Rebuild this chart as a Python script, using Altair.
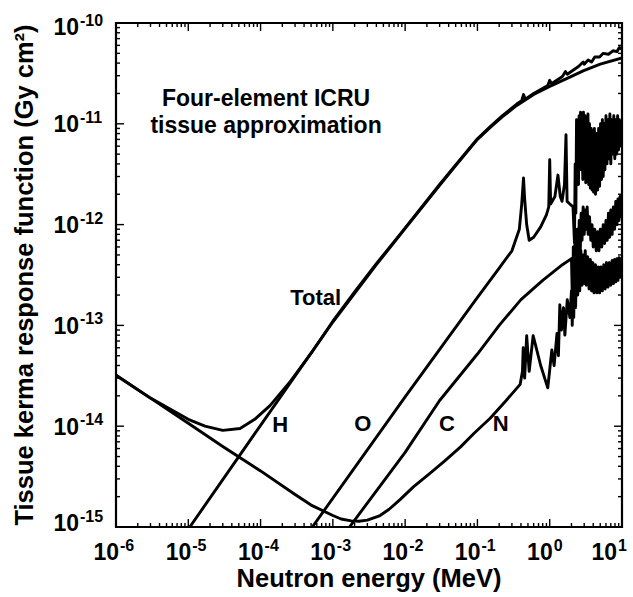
import altair as alt
import pandas as pd

# ---------------- data (E in MeV, K in Gy cm^2) ----------------
total_pts = [
    (1e-6, 3.2e-14), (3e-6, 1.9e-14), (1e-5, 1.17e-14), (1.7e-5, 1.0e-14), (3e-5, 9.1e-15),
    (5.2e-5, 9.5e-15), (8.3e-5, 1.17e-14), (1.35e-4, 1.6e-14), (2.6e-4, 2.8e-14), (5e-4, 5.3e-14),
    (1e-3, 1.1e-13), (2e-3, 2.15e-13), (4e-3, 4.1e-13), (8.5e-3, 8.0e-13), (0.03, 2.5e-12),
    (0.05, 3.9e-12), (0.1, 7.1e-12), (0.148, 9.3e-12), (0.22, 1.2e-11), (0.35, 1.57e-11),
    (0.41, 1.7e-11), (0.434, 1.95e-11), (0.46, 1.75e-11), (0.6, 2.0e-11), (0.94, 2.4e-11),
    (1.0, 2.7e-11), (1.06, 2.5e-11), (1.5, 2.95e-11), (1.65, 3.3e-11), (1.75, 3.1e-11),
    (2.5, 3.7e-11), (2.9, 4.1e-11), (3.0, 3.9e-11), (3.4, 4.3e-11), (3.8, 4.1e-11),
    (4.2, 4.6e-11), (4.9, 4.6e-11), (5.5, 5.0e-11), (6.5, 4.9e-11), (7.5, 5.3e-11),
    (8.5, 5.2e-11), (9.2, 5.7e-11), (10.0, 5.5e-11),
]
h_pts = [
    (1.05e-5, 1.0e-15), (1e-4, 1.02e-14), (1e-3, 1.08e-13), (4e-3, 4.0e-13), (8.5e-3, 7.9e-13),
    (0.03, 2.45e-12), (0.05, 3.85e-12), (0.1, 7.0e-12), (0.148, 9.1e-12), (0.22, 1.17e-11),
    (0.35, 1.52e-11), (0.6, 1.95e-11), (1.0, 2.35e-11), (2.0, 2.95e-11), (2.9, 3.35e-11),
    (5.0, 3.9e-11), (10.0, 4.5e-11),
]
o_pts = [
    (5.2e-4, 1.0e-15), (1e-2, 1.95e-14), (0.095, 1.8e-13), (0.2, 3.7e-13), (0.3, 5.5e-13),
    (0.38, 9e-13), (0.41, 1.6e-12), (0.434, 2.9e-12), (0.45, 1.8e-12), (0.48, 1.0e-12),
    (0.52, 7e-13), (0.6, 7.5e-13), (0.75, 9.5e-13), (0.9, 1.25e-12), (0.97, 1.5e-12),
    (1.0, 4.4e-12), (1.03, 1.6e-12), (1.18, 1.9e-12), (1.3, 3.1e-12), (1.4, 1.9e-12),
    (1.48, 1.7e-12), (1.6, 2.5e-12), (1.68, 7.8e-12), (1.74, 1.7e-12), (1.9, 1.6e-12),
    (2.1, 1.5e-12), (2.2, 6.6e-13), (2.25, 4e-12), (2.3, 1.3e-12), (2.35, 1.1e-11),
    (2.4, 3e-12), (2.45, 9e-12), (2.5, 2.5e-12), (2.55, 1.2e-11), (2.6, 4e-12), (2.67, 1.3e-11),
    (2.73, 3.5e-12), (2.8, 1.1e-11), (2.87, 2.8e-12), (2.93, 1.3e-11), (3.0, 3e-12),
    (3.08, 1.2e-11), (3.15, 2.6e-12), (3.22, 1.05e-11), (3.3, 3.2e-12), (3.38, 1.25e-11),
    (3.46, 2.5e-12), (3.55, 1.0e-11), (3.65, 2.3e-12), (3.75, 9e-12), (3.85, 2.2e-12),
    (3.95, 8.5e-12), (4.05, 2.1e-12), (4.15, 9e-12), (4.3, 2.0e-12), (4.45, 8e-12),
    (4.6, 2.2e-12), (4.75, 9e-12), (4.9, 2.4e-12), (5.05, 1.0e-11), (5.2, 2.8e-12),
    (5.35, 1.1e-11), (5.5, 3e-12), (5.65, 1.0e-11), (5.8, 3.5e-12), (6.0, 1.2e-11),
    (6.2, 4e-12), (6.4, 1.1e-11), (6.6, 4.5e-12), (6.8, 1.25e-11), (7.0, 4e-12), (7.2, 1.1e-11),
    (7.45, 5e-12), (7.7, 1.2e-11), (7.95, 4.5e-12), (8.2, 1.1e-11), (8.45, 5e-12), (8.7, 1.2e-11),
    (8.95, 5.5e-12), (9.2, 1.1e-11), (9.45, 6e-12), (9.7, 1.05e-11), (10.0, 8e-12),
]
c_pts = [
    (1.7e-3, 1.0e-15), (1e-2, 5.5e-15), (0.03, 1.8e-14), (0.1, 5.2e-14), (0.2, 1.0e-13),
    (0.4, 1.8e-13), (0.8, 2.8e-13), (1.5, 4.0e-13), (2.0, 4.6e-13), (2.05, 2.0e-13),
    (2.08, 1.4e-13), (2.12, 6e-13), (2.18, 2.5e-13), (2.25, 8e-13), (2.32, 2.2e-13),
    (2.4, 9e-13), (2.48, 4e-13), (2.56, 1.1e-12), (2.64, 5e-13), (2.72, 1.3e-12), (2.8, 7e-13),
    (2.9, 1.5e-12), (3.0, 8e-13), (3.1, 1.4e-12), (3.2, 9e-13), (3.3, 1.5e-12), (3.4, 8e-13),
    (3.55, 1.2e-12), (3.7, 7e-13), (3.85, 1.0e-12), (4.0, 6e-13), (4.2, 9e-13), (4.4, 5.5e-13),
    (4.6, 8.5e-13), (4.8, 5.5e-13), (5.0, 9e-13), (5.25, 6e-13), (5.5, 1.0e-12), (5.75, 6.5e-13),
    (6.0, 1.1e-12), (6.25, 7e-13), (6.5, 1.3e-12), (6.75, 7.5e-13), (7.0, 1.4e-12), (7.3, 8e-13),
    (7.6, 1.5e-12), (7.9, 9e-13), (8.2, 1.7e-12), (8.5, 1.0e-12), (8.8, 1.8e-12), (9.1, 1.1e-12),
    (9.4, 1.9e-12), (9.7, 1.2e-12), (10.0, 1.6e-12),
]
n_pts = [
    (1e-6, 3.2e-14), (3e-6, 1.9e-14), (1e-5, 1.07e-14), (3e-5, 6.3e-15), (1e-4, 3.6e-15),
    (3e-4, 2.1e-15), (5e-4, 1.65e-15), (1e-3, 1.3e-15), (1.3e-3, 1.2e-15), (1.8e-3, 1.15e-15),
    (2.3e-3, 1.14e-15), (3e-3, 1.17e-15), (4.5e-3, 1.3e-15), (6e-3, 1.5e-15), (8.5e-3, 1.87e-15),
    (1.3e-2, 2.5e-15), (2.2e-2, 3.4e-15), (3.5e-2, 4.5e-15), (5.8e-2, 6.2e-15), (0.09, 8.5e-15),
    (0.15, 1.2e-14), (0.25, 1.8e-14), (0.39, 2.6e-14),
    (0.42, 3.5e-14), (0.43, 6.0e-14), (0.45, 3.0e-14), (0.48, 7.9e-14), (0.52, 3.5e-14),
    (0.59, 7.9e-14), (0.75, 4.0e-14), (0.94, 2.4e-14), (1.07, 5.7e-14), (1.15, 4.0e-14),
    (1.26, 8.3e-14), (1.32, 5.0e-14), (1.38, 1.6e-13), (1.45, 9e-14), (1.55, 1.5e-13),
    (1.62, 8e-14), (1.75, 1.8e-13), (1.9, 1.2e-13), (2.0, 2.2e-13), (2.05, 1.0e-13),
    (2.1, 3e-13), (2.15, 1.2e-13), (2.2, 3.5e-13), (2.28, 1.5e-13), (2.36, 4.5e-13),
    (2.44, 2e-13), (2.52, 5e-13), (2.6, 2.2e-13), (2.7, 5.5e-13), (2.8, 2.5e-13), (2.9, 5e-13),
    (3.0, 2.6e-13), (3.1, 5.5e-13), (3.2, 2.5e-13), (3.35, 4.8e-13), (3.5, 2.3e-13),
    (3.65, 4.5e-13), (3.8, 2.2e-13), (3.95, 4.2e-13), (4.1, 2.1e-13), (4.3, 4e-13),
    (4.5, 2.1e-13), (4.7, 3.8e-13), (4.9, 2.1e-13), (5.1, 3.8e-13), (5.35, 2.2e-13),
    (5.6, 4e-13), (5.85, 2.3e-13), (6.1, 4.2e-13), (6.4, 2.4e-13), (6.7, 4.2e-13),
    (7.0, 2.5e-13), (7.3, 4.4e-13), (7.6, 2.6e-13), (7.9, 4.5e-13), (8.2, 2.7e-13),
    (8.5, 4.6e-13), (8.8, 2.8e-13), (9.1, 4.7e-13), (9.4, 3e-13), (9.7, 4.6e-13), (10.0, 3.5e-13),
]

x_decades = [1e-6, 1e-5, 1e-4, 1e-3, 1e-2, 1e-1, 1e0, 1e1]
x_exps = ["-6", "-5", "-4", "-3", "-2", "-1", "0", "1"]
y_decades = [1e-15, 1e-14, 1e-13, 1e-12, 1e-11, 1e-10]
y_exps = ["-15", "-14", "-13", "-12", "-11", "-10"]

curve_labels = ["Total", "H", "O", "C", "N"]
curve_label_E = [5.8e-4, 1.87e-4, 2.6e-3, 3.8e-2, 0.21]
curve_label_K = [1.58e-13, 8.7e-15, 8.9e-15, 8.9e-15, 8.9e-15]

note_lines = ["Four-element ICRU", "tissue approximation"]
note_E = [1.19e-4, 1.19e-4]
note_K = [1.5e-11, 8.1e-12]

x_title = "Neutron energy (MeV)"
y_title = "Tissue kerma response function (Gy cm²)"

# ---------------- build tables ----------------
frames = []
for name, pts in [("Total", total_pts), ("H", h_pts), ("O", o_pts), ("C", c_pts), ("N", n_pts)]:
    frames.append(pd.DataFrame({"E": [p[0] for p in pts], "K": [p[1] for p in pts], "series": name}))
curves = pd.concat(frames, ignore_index=True)

xmaj = pd.DataFrame({"v": x_decades, "exp": x_exps})
ymaj = pd.DataFrame({"v": y_decades, "exp": y_exps})
xmin = pd.DataFrame({"v": [m * d for d in x_decades[:-1] for m in range(2, 10)]})
ymin = pd.DataFrame({"v": [m * d for d in y_decades[:-1] for m in range(2, 10)]})
labels_df = pd.DataFrame({"t": curve_labels, "E": curve_label_E, "K": curve_label_K})
notes_df = pd.DataFrame({"t": note_lines, "E": note_E, "K": note_K})
one = pd.DataFrame({"x_title": [x_title], "y_title": [y_title]})

W, H = 506, 504
FONT = "Liberation Sans"
xs = alt.Scale(type="log", domain=[1e-6, 10], nice=False)
ys = alt.Scale(type="log", domain=[1e-15, 1e-10], nice=False)

lines = alt.Chart(curves).mark_line(color="black", strokeWidth=2.9, clip=True, strokeJoin="round").encode(
    x=alt.X("E:Q", scale=xs, axis=None),
    y=alt.Y("K:Q", scale=ys, axis=None),
    detail="series:N",
)

frame = alt.Chart(one).mark_rect(fill=None, stroke="black", strokeWidth=2.2).encode(
    x=alt.value(0), x2=alt.value(W), y=alt.value(0), y2=alt.value(H))

def xticks(df, length):
    base = alt.Chart(df).mark_rule(color="black", strokeWidth=1.4)
    bottom = base.encode(x=alt.X("v:Q", scale=xs, axis=None), y=alt.value(H), y2=alt.value(H - length))
    top = base.encode(x=alt.X("v:Q", scale=xs, axis=None), y=alt.value(0), y2=alt.value(length))
    return [bottom, top]

def yticks(df, length):
    base = alt.Chart(df).mark_rule(color="black", strokeWidth=1.4)
    left = base.encode(y=alt.Y("v:Q", scale=ys, axis=None), x=alt.value(0), x2=alt.value(length))
    right = base.encode(y=alt.Y("v:Q", scale=ys, axis=None), x=alt.value(W), x2=alt.value(W - length))
    return [left, right]

tick_layers = xticks(xmaj, 8) + xticks(xmin, 4) + yticks(ymaj, 8) + yticks(ymin, 4)

txt = dict(font=FONT, fontWeight="bold", color="black", baseline="alphabetic")
BASE_FS, EXP_FS = 23, 16

def xlabels(filt, dxb):
    b = alt.Chart(xmaj).transform_filter(filt).mark_text(
        text="10", align="right", dx=dxb, fontSize=BASE_FS, **txt).encode(
        x=alt.X("v:Q", scale=xs, axis=None), y=alt.value(H + 33))
    e = alt.Chart(xmaj).transform_filter(filt).mark_text(
        align="left", dx=dxb + 1, fontSize=EXP_FS, **txt).encode(
        x=alt.X("v:Q", scale=xs, axis=None), y=alt.value(H + 24), text="exp:N")
    return [b, e]

def ylabels(filt, dyb):
    b = alt.Chart(ymaj).transform_filter(filt).mark_text(
        text="10", align="right", dy=dyb, fontSize=BASE_FS, **txt).encode(
        y=alt.Y("v:Q", scale=ys, axis=None), x=alt.value(-37))
    e = alt.Chart(ymaj).transform_filter(filt).mark_text(
        align="left", dy=dyb - 9.5, fontSize=EXP_FS, **txt).encode(
        y=alt.Y("v:Q", scale=ys, axis=None), x=alt.value(-36), text="exp:N")
    return [b, e]

label_layers = (xlabels("datum.v < 5", 3) + xlabels("datum.v > 5", -5)
                + ylabels("datum.v > 2e-15 && datum.v < 5e-11", 8.5)
                + ylabels("datum.v > 5e-11", 12) + ylabels("datum.v < 2e-15", 4))

x_title_mark = alt.Chart(one).mark_text(align="center", fontSize=25.5, **txt).encode(
    x=alt.value(W / 2), y=alt.value(H + 60), text="x_title:N")
y_title_mark = alt.Chart(one).mark_text(align="center", angle=270, fontSize=25.5, **txt).encode(
    x=alt.value(-83), y=alt.value(H / 2), text="y_title:N")

curve_text = alt.Chart(labels_df).mark_text(align="center", fontSize=22, **txt).encode(
    x=alt.X("E:Q", scale=xs, axis=None), y=alt.Y("K:Q", scale=ys, axis=None), text="t:N")
note_text = alt.Chart(notes_df).mark_text(align="center", fontSize=23, **txt).encode(
    x=alt.X("E:Q", scale=xs, axis=None), y=alt.Y("K:Q", scale=ys, axis=None), text="t:N")

chart = alt.layer(
    lines, frame, *tick_layers, *label_layers,
    x_title_mark, y_title_mark, curve_text, note_text,
).properties(
    width=W, height=H,
    autosize=alt.AutoSizeParams(type="none"),
    padding={"left": 116, "top": 23, "right": 11, "bottom": 70},
    background="white",
).configure_view(stroke=None)

chart.save("out.html", embed_options={"renderer": "svg", "actions": False})
